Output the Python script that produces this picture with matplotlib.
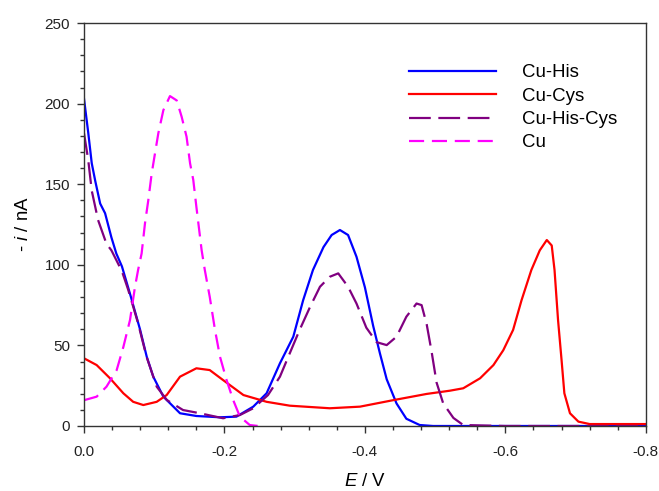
import matplotlib
matplotlib.use("Agg")
import matplotlib.pyplot as plt
from matplotlib.ticker import MultipleLocator, FixedLocator

plt.rcParams['font.family'] = ['Liberation Sans', 'DejaVu Sans']
plt.rcParams['mathtext.fontset'] = 'custom'
plt.rcParams['mathtext.it'] = 'Liberation Sans:italic'
plt.rcParams['mathtext.rm'] = 'Liberation Sans'
plt.rcParams['axes.unicode_minus'] = False

# Cu-His (blue)
his_E = [0.0, -0.006, -0.011, -0.016, -0.023, -0.030, -0.039, -0.046, -0.054, -0.0655, -0.0797,
         -0.0893, -0.0986, -0.113, -0.1367, -0.160, -0.1936, -0.217, -0.241, -0.260, -0.279,
         -0.298, -0.312, -0.326, -0.341, -0.3526, -0.3644, -0.376, -0.388, -0.400, -0.4118,
         -0.4214, -0.431, -0.445, -0.459, -0.478, -0.497, -0.55, -0.65, -0.80]
his_i = [203, 182, 163, 152, 138, 132, 117, 107, 99, 82, 60,
         43, 30.6, 18.2, 7.9, 6.2, 5.4, 5.8, 12, 20.3, 38.9,
         55.4, 78, 96.8, 111, 118.5, 121.6, 118.5, 105, 86, 62,
         45, 29, 14, 4.5, 0.6, 0, 0, 0, 0]

# Cu-Cys (red)
cys_E = [0.0, -0.018, -0.037, -0.056, -0.070, -0.0844, -0.1035, -0.1177, -0.1367, -0.160,
         -0.179, -0.198, -0.227, -0.260, -0.293, -0.350, -0.393, -0.440, -0.488, -0.521,
         -0.540, -0.564, -0.583, -0.597, -0.611, -0.623, -0.637, -0.649, -0.659, -0.666,
         -0.670, -0.675, -0.680, -0.684, -0.692, -0.704, -0.720, -0.80]
cys_i = [42, 37.8, 29.6, 20.3, 15, 13, 15, 19.2, 30.6, 35.8,
         34.7, 28.5, 19.2, 15, 12.6, 11, 12, 16, 19.9, 21.9,
         23.4, 29.6, 37.8, 47, 59.6, 78, 96.8, 109, 115.4, 112,
         96.8, 65.8, 41, 20.3, 7.9, 2.7, 1.2, 1.2]

# Cu-His-Cys (purple)
hc_E = [0.0, -0.006, -0.011, -0.020, -0.032, -0.039, -0.054, -0.063, -0.077, -0.089,
        -0.1035, -0.118, -0.141, -0.165, -0.198, -0.222, -0.241, -0.262, -0.279, -0.289,
        -0.307, -0.322, -0.336, -0.350, -0.362, -0.376, -0.388, -0.402, -0.4166, -0.431,
        -0.445, -0.459, -0.4735, -0.4807, -0.488, -0.495, -0.502, -0.5115, -0.526, -0.540,
        -0.60, -0.80]
hc_i = [181.6, 165, 146, 127.8, 113, 109, 96, 84.4, 63.7, 43,
        24.4, 16.1, 9.9, 7.9, 4.8, 6.8, 11, 19.2, 30.6, 41,
        59.6, 74, 86.4, 92.6, 94.7, 86.4, 76, 61, 52, 50.2,
        55.4, 67.8, 76, 75, 63, 46, 27, 14, 5, 0.6,
        0, 0]

# Cu (magenta)
cu_E = [0.0, -0.018, -0.032, -0.0465, -0.056, -0.0655, -0.0726, -0.077, -0.082, -0.0868,
        -0.0915, -0.0964, -0.101, -0.1058, -0.113, -0.1224, -0.132, -0.139, -0.146, -0.151,
        -0.1556, -0.160, -0.164, -0.1675, -0.172, -0.179, -0.1865, -0.1936, -0.203, -0.2125,
        -0.222, -0.236, -0.248]
cu_i = [16, 18.2, 24.4, 34.7, 49, 65.8, 86.4, 96.8, 107, 125.7,
        140, 156.8, 169, 181.6, 196, 204.7, 202, 191.9, 179.5, 163,
        152.6, 136, 121.6, 109, 96.8, 80.2, 59.6, 43, 28.5, 16,
        5.8, 0.6, 0]

labels = ["Cu-His", "Cu-Cys", "Cu-His-Cys", "Cu"]
x_ticks = [0.0, -0.2, -0.4, -0.6, -0.8]
x_ticklabels = ["0.0", "-0.2", "-0.4", "-0.6", "-0.8"]
y_ticks = [0, 50, 100, 150, 200, 250]

fig = plt.figure(figsize=(6.59, 4.91), dpi=100)
ax = fig.add_axes([0.1275, 0.1324, 0.8525, 0.8206])

lw = 1.6
ax.plot(his_E, his_i, color='#0000FF', lw=lw, label=labels[0])
ax.plot(cys_E, cys_i, color='#FF0000', lw=lw, label=labels[1])
ax.plot(hc_E, hc_i, color='#800080', lw=lw, dashes=(9.8, 3.4), label=labels[2])
ax.plot(cu_E, cu_i, color='#FF00FF', lw=lw, dashes=(6.8, 3.5), label=labels[3])

ax.set_xlim(0, -0.8)
ax.set_ylim(0, 250)
ax.xaxis.set_major_locator(FixedLocator(x_ticks))
ax.set_xticklabels(x_ticklabels)
ax.xaxis.set_minor_locator(MultipleLocator(0.04))
ax.set_yticks(y_ticks)
ax.yaxis.set_minor_locator(MultipleLocator(10))

for s in ax.spines.values():
    s.set_linewidth(1.0)
    s.set_color('#333333')
ax.tick_params(which='major', direction='out', length=5, width=1.0, color='#333333',
               labelsize=11, labelcolor='#222222')
ax.tick_params(which='minor', direction='out', length=3.2, width=1.0, color='#333333')
ax.tick_params(axis='x', which='major', pad=9)
ax.tick_params(axis='y', which='major', pad=5)

ax.set_xlabel(r'$\mathit{E}$ / V', fontsize=13.4, labelpad=10)
ax.set_ylabel(r'- $\mathit{i}$ / nA', fontsize=13.4, labelpad=9)

leg = ax.legend(loc='upper left', bbox_to_anchor=(0.578, 0.8975), frameon=False,
                fontsize=13.4, handlelength=4.7, handletextpad=1.4, labelspacing=0.34,
                borderpad=0, borderaxespad=0)

fig.savefig('out.png', dpi=100)
